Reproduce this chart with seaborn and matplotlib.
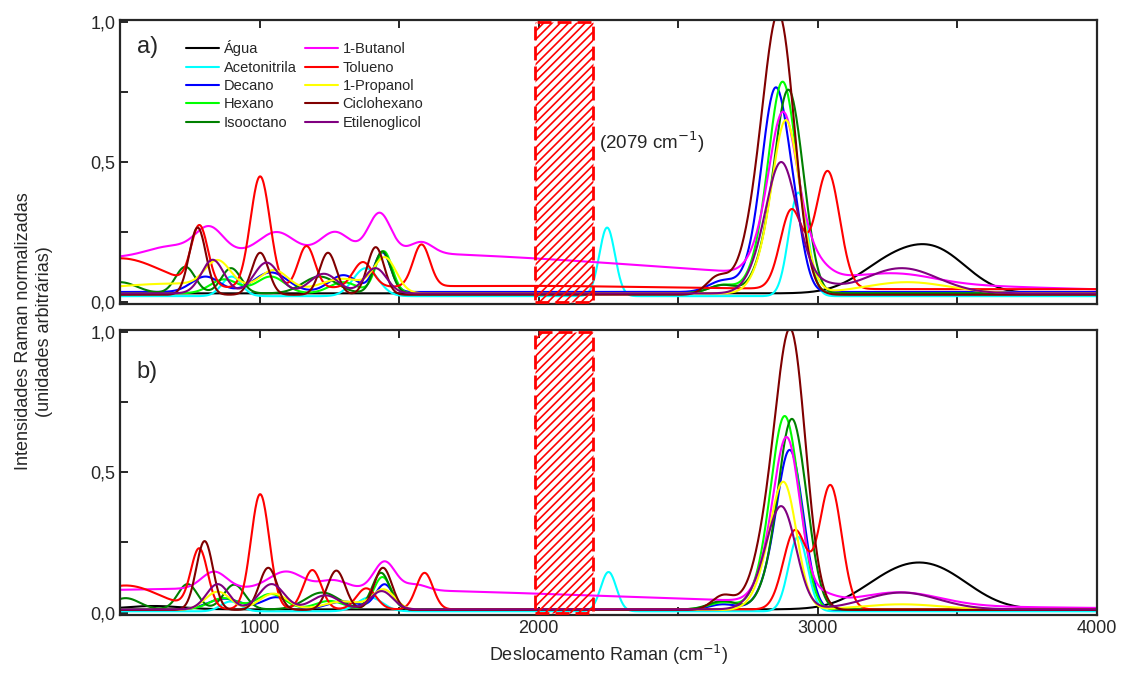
import numpy as np
import pandas as pd
import matplotlib
matplotlib.use("Agg")
import matplotlib.pyplot as plt
from matplotlib.patches import Rectangle
from matplotlib.ticker import MultipleLocator, FuncFormatter
import seaborn as sns

# ---- DADOS ----
# cada pico: (centro em cm-1, altura, largura sigma)
nomes = ["Água", "Acetonitrila", "Decano", "Hexano", "Isooctano",
         "1-Butanol", "Tolueno", "1-Propanol", "Ciclohexano", "Etilenoglicol"]
cores = ["#000000", "#00FFFF", "#0000FF", "#00FF00", "#008000",
         "#FF00FF", "#FF0000", "#FFFF00", "#800000", "#800080"]

# painel a) - nível de base de cada espectro
piso_a = [0.03, 0.02, 0.035, 0.03, 0.03, 0.03, 0.045, 0.03, 0.025, 0.03]
agua_a = [(3270, 0.11, 120), (3440, 0.12, 110)]
acetonitrila_a = [(900, 0.07, 35), (1380, 0.10, 45), (2245, 0.245, 28), (2930, 0.37, 34)]
decano_a = [(806, 0.055, 50), (1040, 0.07, 60), (1300, 0.06, 50), (1440, 0.14, 30),
            (2660, 0.04, 50), (2852, 0.62, 45), (2800, 0.15, 50), (2920, 0.15, 35)]
hexano_a = [(873, 0.05, 50), (1040, 0.06, 50), (1300, 0.04, 50), (1445, 0.15, 30),
            (2660, 0.03, 50), (2875, 0.655, 45), (2815, 0.15, 50), (2935, 0.12, 35)]
isooctano_a = [(500, 0.04, 60), (734, 0.095, 35), (898, 0.09, 35), (1215, 0.06, 60),
               (1440, 0.15, 30), (2660, 0.03, 50), (2896, 0.64, 45), (2830, 0.15, 50),
               (2955, 0.1, 35)]
butanol_a = [(1200, 0.15, 1300), (680, 0.03, 80), (820, 0.09, 50), (1060, 0.07, 60),
             (1270, 0.07, 50), (1430, 0.14, 40), (1580, 0.04, 40), (2877, 0.5, 45),
             (2815, 0.12, 50), (2940, 0.08, 40), (2990, 0.05, 50), (3290, 0.03, 130)]
tolueno_a = [(500, 0.11, 150), (1900, 0.012, 500), (785, 0.21, 30), (1002, 0.40, 35),
             (1168, 0.15, 30), (1370, 0.09, 35), (1580, 0.15, 30), (2905, 0.28, 40),
             (3035, 0.42, 43)]
propanol_a = [(700, 0.035, 250), (850, 0.09, 45), (1053, 0.07, 50), (1300, 0.05, 80),
              (1450, 0.12, 40), (2888, 0.545, 45), (2825, 0.12, 50), (2950, 0.06, 40),
              (3320, 0.04, 150)]
ciclohexano_a = [(778, 0.24, 30), (1002, 0.15, 30), (1245, 0.15, 30), (1416, 0.17, 30),
                 (2640, 0.06, 40), (2870, 0.72, 52), (2815, 0.38, 65)]
etilenoglicol_a = [(832, 0.12, 40), (1025, 0.11, 45), (1230, 0.07, 50), (1415, 0.09, 40),
                   (2872, 0.4, 50), (2810, 0.1, 55), (2940, 0.05, 40), (3000, 0.03, 60),
                   (3300, 0.09, 130)]

# painel b)
piso_b = [0.012, 0.005, 0.01, 0.012, 0.012, 0.012, 0.012, 0.01, 0.01, 0.012]
agua_b = [(620, 0.012, 100), (3270, 0.10, 125), (3440, 0.11, 125)]
acetonitrila_b = [(896, 0.035, 35), (1395, 0.05, 45), (2250, 0.14, 28), (2929, 0.265, 34)]
decano_b = [(873, 0.04, 60), (1060, 0.045, 50), (1300, 0.03, 60), (1448, 0.09, 32),
            (2660, 0.02, 50), (2900, 0.475, 42), (2845, 0.12, 50), (2950, 0.08, 35)]
hexano_b = [(870, 0.04, 50), (1040, 0.055, 50), (1250, 0.03, 50), (1440, 0.115, 32),
            (2660, 0.025, 50), (2882, 0.6, 45), (2825, 0.12, 50), (2940, 0.1, 35)]
isooctano_b = [(520, 0.04, 50), (742, 0.09, 35), (909, 0.088, 38), (1224, 0.06, 60),
               (1435, 0.13, 32), (2660, 0.03, 50), (2909, 0.6, 45), (2850, 0.12, 50),
               (2970, 0.08, 35)]
butanol_b = [(1000, 0.075, 1300), (837, 0.06, 45), (1095, 0.06, 60), (1265, 0.03, 50),
             (1448, 0.10, 38), (1560, 0.02, 40), (2893, 0.52, 45), (2835, 0.12, 50),
             (3010, 0.03, 50), (3300, 0.045, 140)]
tolueno_b = [(520, 0.085, 120), (784, 0.21, 30), (1002, 0.41, 33), (1189, 0.14, 32),
             (1382, 0.075, 35), (1591, 0.13, 30), (2918, 0.28, 42), (3045, 0.44, 40)]
propanol_b = [(850, 0.065, 45), (1050, 0.058, 50), (1300, 0.03, 70), (1445, 0.07, 40),
              (2882, 0.4, 45), (2825, 0.1, 50), (3300, 0.02, 150)]
ciclohexano_b = [(803, 0.245, 30), (1031, 0.15, 32), (1275, 0.14, 32), (1442, 0.15, 32),
                 (2660, 0.05, 40), (2911, 0.72, 50), (2855, 0.38, 65)]
etilenoglicol_b = [(850, 0.09, 40), (1043, 0.09, 45), (1236, 0.05, 50), (1437, 0.065, 40),
                   (2875, 0.32, 50), (2815, 0.08, 55), (3300, 0.06, 130)]

picos_a = [agua_a, acetonitrila_a, decano_a, hexano_a, isooctano_a,
           butanol_a, tolueno_a, propanol_a, ciclohexano_a, etilenoglicol_a]
picos_b = [agua_b, acetonitrila_b, decano_b, hexano_b, isooctano_b,
           butanol_b, tolueno_b, propanol_b, ciclohexano_b, etilenoglicol_b]

# faixa cortada (2079 cm-1)
faixa = (1985, 2195)

wn = np.linspace(500, 4000, 1401)


def espectro(piso, picos):
    y = np.full_like(wn, piso)
    for c, h, s in picos:
        y += h * np.exp(-0.5 * ((wn - c) / s) ** 2)
    return y


def monta_df(pisos, picos):
    partes = []
    for nome, piso, pk in zip(nomes, pisos, picos):
        partes.append(pd.DataFrame({"wn": wn, "I": espectro(piso, pk), "nome": nome}))
    return pd.concat(partes, ignore_index=True)


df_a = monta_df(piso_a, picos_a)
df_b = monta_df(piso_b, picos_b)

# ---- FIGURA ----
sns.set_style("ticks")
plt.rcParams["font.family"] = ["Liberation Sans", "DejaVu Sans"]
plt.rcParams["hatch.linewidth"] = 1.2

fig = plt.figure(figsize=(11.27, 6.9), dpi=100)
ax_a = fig.add_axes([0.1065, 0.5594, 0.8669, 0.4116])
ax_b = fig.add_axes([0.1065, 0.1087, 0.8669, 0.4130], sharex=ax_a)

paleta = dict(zip(nomes, cores))
virgula = FuncFormatter(lambda v, p: f"{v:.1f}".replace(".", ","))

for ax, df, leg in [(ax_a, df_a, True), (ax_b, df_b, False)]:
    sns.lineplot(data=df, x="wn", y="I", hue="nome", hue_order=nomes, palette=paleta,
                 estimator=None, sort=False, linewidth=1.5, ax=ax, legend=leg)
    ax.add_patch(Rectangle((faixa[0], 0), faixa[1] - faixa[0], 1.0, facecolor="none",
                           edgecolor="red", hatch="////", linewidth=2,
                           linestyle=(0, (5, 2.2)), zorder=5))
    ax.set_xlim(500, 4000)
    ax.set_ylim(-0.008, 1.006)
    ax.xaxis.set_major_locator(MultipleLocator(1000))
    ax.xaxis.set_minor_locator(MultipleLocator(500))
    ax.yaxis.set_major_locator(MultipleLocator(0.5))
    ax.yaxis.set_minor_locator(MultipleLocator(0.25))
    ax.yaxis.set_major_formatter(virgula)
    ax.tick_params(which="both", direction="in", top=True, right=False,
                   length=6, width=1.4, labelsize=13)
    for s in ax.spines.values():
        s.set_linewidth(1.6)
    ax.set_xlabel("")
    ax.set_ylabel("")

ax_a.tick_params(labelbottom=False)

ax_a.text(0.017, 0.905, "a)", transform=ax_a.transAxes, fontsize=17, va="center")
ax_b.text(0.017, 0.853, "b)", transform=ax_b.transAxes, fontsize=17, va="center")
ax_a.text(2215, 0.57, "(2079 cm$^{-1}$)", fontsize=13.5, va="center")

h, l = ax_a.get_legend_handles_labels()
ax_a.legend(h, l, ncol=2, loc="upper left", bbox_to_anchor=(0.054, 0.975), frameon=False,
            fontsize=10.5, handlelength=2.3, labelspacing=0.3, columnspacing=0.55,
            handletextpad=0.3)

ax_b.set_xlabel("Deslocamento Raman (cm$^{-1}$)", fontsize=13)
fig.text(0.03, 0.52, "Intensidades Raman normalizadas\n(unidades arbitrárias)",
         rotation=90, ha="center", va="center", fontsize=13, linespacing=1.3)

fig.savefig("out.png", dpi=100)
